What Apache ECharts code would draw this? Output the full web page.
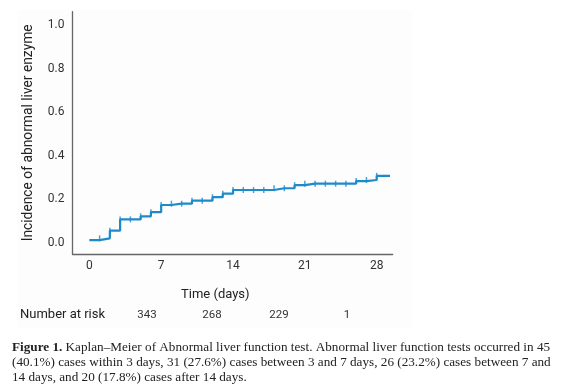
<!DOCTYPE html>
<html><head><meta charset="utf-8">
<script src="https://cdn.jsdelivr.net/npm/echarts@6/dist/echarts.min.js"></script>
<style>html,body{margin:0;padding:0;background:#fff}#c{width:567px;height:389px}</style>
</head><body><div id="c"></div>
<script>
// Days (time axis) and cumulative incidence at each day (after any event that day)
const days = [0,1,2,3,4,5,6,7,8,9,10,11,12,13,14,15,16,17,18,19,20,21,22,23,24,25,26,27,28];
const incidence = [0.012,0.020,0.055,0.107,0.107,0.121,0.140,0.173,0.179,0.179,0.193,0.193,0.209,0.225,0.242,0.242,0.242,0.242,0.250,0.250,0.264,0.271,0.271,0.271,0.271,0.271,0.283,0.288,0.307];
const lastFollowUp = 29.3;
const xTicks = [0,7,14,21,28];
const yTicks = [0,0.2,0.4,0.6,0.8,1.0];
const riskLabel = 'Number at risk';
const riskNumbers = ['343','268','229','1'];
const captionBold = 'Figure 1.';
const captionLines = [
  ' Kaplan\u2013Meier of Abnormal liver function test. Abnormal liver function tests occurred in 45',
  '(40.1%) cases within 3 days, 31 (27.6%) cases between 3 and 7 days, 26 (23.2%) cases between 7 and',
  '14 days, and 20 (17.8%) cases after 14 days.'
];

const lineData = days.map((d,i)=>[d,incidence[i]]);
lineData.push([lastFollowUp, incidence[incidence.length-1]]);
const censorData = days.slice(1).map((d,i)=>[d,incidence[i+1]]);

const chart = echarts.init(document.getElementById('c'), null, {renderer:'canvas'});
const blue = '#1e8bc9';
const sans = 'Roboto, "Noto Sans", sans-serif';
const serif = '"Liberation Serif", "DejaVu Serif", serif';
const riskX = [147, 212, 279, 347];
const capFont = '13.2px '+serif;

const graphics = [
  {type:'rect', shape:{x:17,y:10,width:395,height:318}, style:{fill:'#fdfdfd'}, z:-10, silent:true},
  {type:'text', left:181, top:288, style:{text:'Time (days)', font:'13px '+sans, fill:'#222'}},
  {type:'text', x:20, y:315, style:{text:riskLabel, font:'13px '+sans, fill:'#222', verticalAlign:'middle'}},
];
riskNumbers.forEach((t,i)=>{
  graphics.push({type:'text', x:riskX[i], y:315, style:{text:t, font:'11.5px '+sans, fill:'#333', align:'center', verticalAlign:'middle'}});
});
graphics.push({type:'text', x:12, y:348, style:{
  text:'{b|'+captionBold+'}'+captionLines[0], rich:{b:{font:'bold 13.2px '+serif, fill:'#222'}},
  font:capFont, fill:'#222', verticalAlign:'middle'}});
graphics.push({type:'text', x:12, y:363, style:{text:captionLines[1], font:capFont, fill:'#222', verticalAlign:'middle'}});
graphics.push({type:'text', x:12, y:377.5, style:{text:captionLines[2], font:capFont, fill:'#222', verticalAlign:'middle'}});

chart.setOption({
  animation:false,
  backgroundColor:'#ffffff',
  grid:{left:72.5, top:11.7, width:320.2, height:242.3, containLabel:false},
  xAxis:{type:'value', min:-1.64, max:29.56,
    axisLine:{show:true, onZero:false, lineStyle:{color:'#666', width:1.3}},
    axisTick:{show:false}, splitLine:{show:false},
    axisLabel:{customValues:xTicks, color:'#333', fontFamily:sans, fontSize:12, margin:6}},
  yAxis:{type:'value', min:-0.052, max:1.061,
    name:'Incidence of abnormal liver enzyme', nameLocation:'middle', nameGap:37, nameRotate:90,
    nameTextStyle:{color:'#222', fontFamily:sans, fontSize:13.8},
    axisLine:{show:true, onZero:false, lineStyle:{color:'#666', width:1.3}},
    axisTick:{show:false}, splitLine:{show:false},
    axisLabel:{customValues:yTicks, formatter:v=>v.toFixed(1), color:'#333', fontFamily:sans, fontSize:12, margin:8}},
  series:[
    {type:'line', step:'end', data:lineData, showSymbol:false, lineStyle:{color:blue, width:2.2}, itemStyle:{color:blue}, z:3},
    {type:'scatter', data:censorData, symbol:'rect', symbolSize:[1.5,6], itemStyle:{color:blue}, z:4}
  ],
  graphic:graphics
});
</script></body></html>
